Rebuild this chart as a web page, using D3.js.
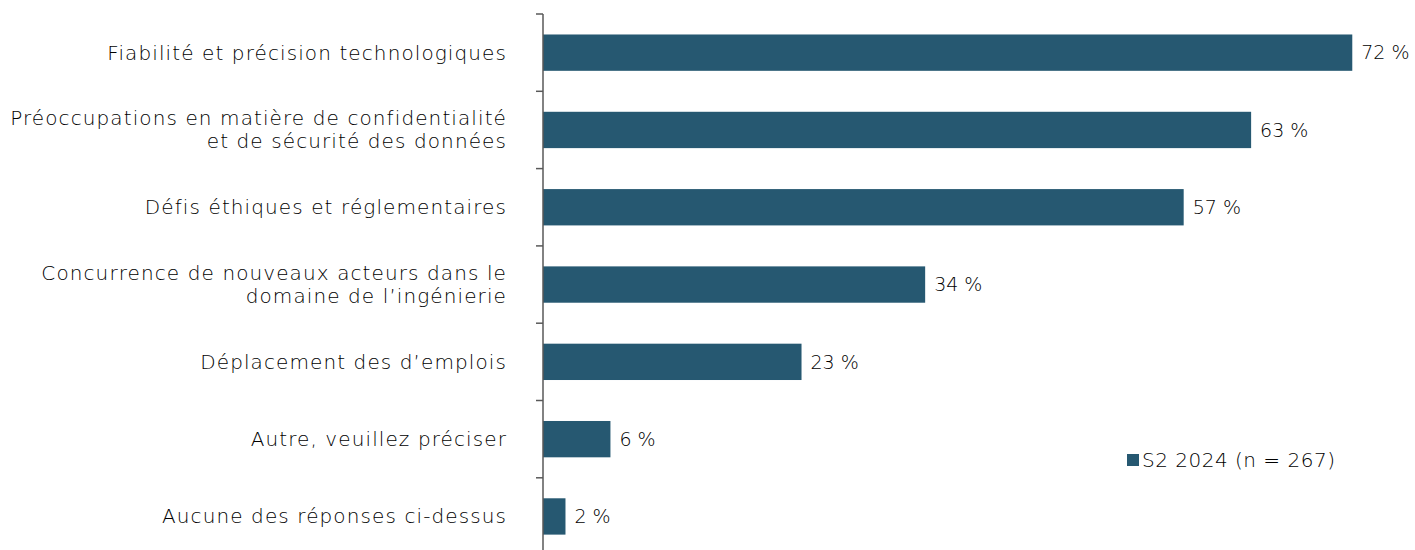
<!DOCTYPE html>
<html>
<head>
<meta charset="utf-8">
<script src="https://cdn.jsdelivr.net/npm/d3@7"></script>
<style>
  html, body { margin: 0; padding: 0; background: #fff; }
  svg { display: block; }
  text { font-family: "DejaVu Sans", sans-serif; font-weight: 300; fill: #000; }
</style>
</head>
<body>
<svg id="chart" width="1415" height="550"></svg>
<script>
// Category labels (each entry is a list of lines)
const categories = [
  ["Fiabilité et précision technologiques"],
  ["Préoccupations en matière de confidentialité", "et de sécurité des données"],
  ["Défis éthiques et réglementaires"],
  ["Concurrence de nouveaux acteurs dans le", "domaine de l’ingénierie"],
  ["Déplacement des d’emplois"],
  ["Autre, veuillez préciser"],
  ["Aucune des réponses ci-dessus"]
];
const values = [72, 63, 57, 34, 23, 6, 2];
const seriesName = "S2 2024 (n = 267)";

const barColor = "#265871";
const svg = d3.select("#chart");

const axisX = 543;
const plotTop = 14, bandStep = 77.3;
const plotBottom = plotTop + bandStep * categories.length;

const x = d3.scaleLinear().domain([0, 100]).range([axisX, axisX + 1124]);
const y = d3.scaleBand()
  .domain(d3.range(categories.length))
  .range([plotTop, plotBottom])
  .paddingInner(0.53)
  .paddingOuter(0.265);

// Bars
svg.append("g").selectAll("rect")
  .data(values)
  .join("rect")
  .attr("x", x(0))
  .attr("y", (d, i) => y(i))
  .attr("width", d => x(d) - x(0))
  .attr("height", y.bandwidth())
  .attr("fill", barColor);

// Category axis with ticks on band boundaries
const axisG = svg.append("g");
axisG.append("line")
  .attr("x1", axisX).attr("x2", axisX)
  .attr("y1", plotTop).attr("y2", plotBottom)
  .attr("stroke", "#595959").attr("stroke-width", 1.5);
axisG.selectAll("line.tick")
  .data(d3.range(categories.length + 1))
  .join("line")
  .attr("class", "tick")
  .attr("x1", axisX - 7).attr("x2", axisX)
  .attr("y1", i => plotTop + i * bandStep)
  .attr("y2", i => plotTop + i * bandStep)
  .attr("stroke", "#595959").attr("stroke-width", 1.5);

// Category labels
const lineH = 23;
svg.append("g").selectAll("text")
  .data(categories)
  .join("text")
  .attr("text-anchor", "end")
  .attr("font-size", 20)
  .attr("letter-spacing", 1.1)
  .each(function(lines, i) {
    const cy = y(i) + y.bandwidth() / 2;
    const t = d3.select(this);
    lines.forEach((ln, k) => {
      t.append("tspan")
        .attr("x", 507)
        .attr("y", cy + (k - (lines.length - 1) / 2) * lineH)
        .attr("dy", "0.35em")
        .text(ln);
    });
  });

// Value labels
svg.append("g").selectAll("text")
  .data(values)
  .join("text")
  .attr("x", d => x(d) + 9)
  .attr("y", (d, i) => y(i) + y.bandwidth() / 2)
  .attr("dy", "0.35em")
  .attr("font-size", 19)
  .text(d => d + " %");

// Legend
const legend = svg.append("g").attr("transform", "translate(1127,460)");
legend.append("rect")
  .attr("x", 0).attr("y", -6).attr("width", 12).attr("height", 12)
  .attr("fill", barColor);
legend.append("text")
  .attr("x", 15).attr("dy", "0.35em")
  .attr("font-size", 20)
  .attr("letter-spacing", 0.5)
  .text(seriesName);
</script>
</body>
</html>
